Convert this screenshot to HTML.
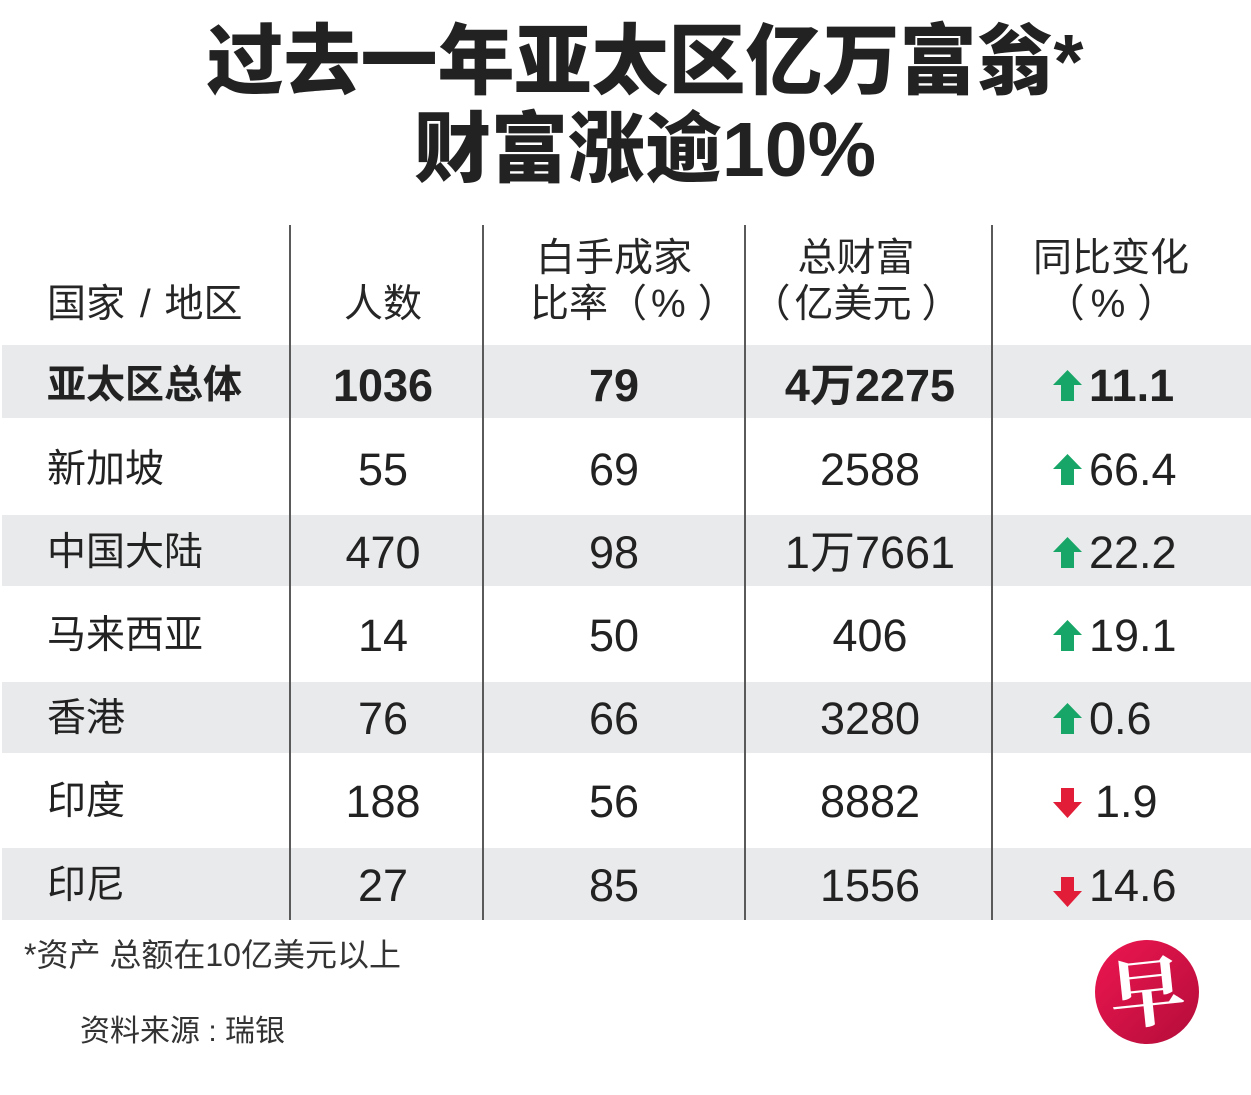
<!DOCTYPE html>
<html><head><meta charset="utf-8">
<style>
*{margin:0;padding:0;box-sizing:border-box}
html,body{width:1251px;height:1095px;background:#fff;overflow:hidden}
body{position:relative;font-family:"Liberation Sans","Noto Sans CJK SC",sans-serif;color:#222}
.a{position:absolute;white-space:nowrap}
.title{left:0;width:1290px;text-align:center;font-size:77px;line-height:77px;font-weight:900;color:#222;font-family:"Liberation Sans","Noto Sans CJK SC",sans-serif}
.band{position:absolute;left:2px;width:1249px;background:#e9eaeb}
.vl{position:absolute;top:225px;height:695px;width:2px;background:#5a5a5a}
.hd{font-size:39px;line-height:46px;color:#262626;text-align:center}
.row{position:absolute;left:0;width:1251px;height:50px;line-height:50px}
.row div{position:absolute;top:0;white-space:nowrap}
.nm{left:47px;font-size:39px}
.c1{left:290px;width:186px;text-align:center;font-size:45px}
.c2{left:483px;width:262px;text-align:center;font-size:45px}
.c3{left:745px;width:250px;text-align:center;font-size:45px}
.c4{left:1089px;font-size:45px}
.b{font-weight:bold}
.ar{position:absolute;left:1053px}
.sp{display:inline-block}
</style></head><body>

<div class="a title" style="top:24px">过去一年亚太区亿万富翁*</div>
<div class="a title" style="top:112px">财富涨逾10%</div>

<div class="band" style="top:345px;height:73px"></div>
<div class="band" style="top:515px;height:71px"></div>
<div class="band" style="top:682px;height:71px"></div>
<div class="band" style="top:848px;height:72px"></div>

<div class="vl" style="left:289px"></div>
<div class="vl" style="left:482px"></div>
<div class="vl" style="left:744px"></div>
<div class="vl" style="left:991px"></div>

<!-- header -->
<div class="a hd" style="left:47px;top:282px;text-align:left">国家<span class="sp" style="width:4px"></span> / <span class="sp" style="width:3px"></span>地区</div>
<div class="a hd" style="left:290px;width:186px;top:282px">人数</div>
<div class="a hd" style="left:483px;width:262px;top:236px">白手成家</div>
<div class="a hd" style="left:530px;top:282px;text-align:left">比率（<span class="sp" style="width:4px"></span>%<span class="sp" style="width:12px"></span>）</div>
<div class="a hd" style="left:745px;width:222px;top:236px">总财富</div>
<div class="a hd" style="left:745px;width:222px;top:282px">（<span class="sp" style="width:4px"></span>亿美元<span class="sp" style="width:10px"></span>）</div>
<div class="a hd" style="left:992px;width:238px;top:236px">同比变化</div>
<div class="a hd" style="left:992px;width:238px;top:282px">（<span class="sp" style="width:6px"></span>%<span class="sp" style="width:12px"></span>）</div>

<!-- rows -->
<div class="row" style="top:361px">
  <div class="nm b">亚太区总体</div><div class="c1 b">1036</div><div class="c2 b">79</div><div class="c3 b">4万2275</div><div class="c4 b">11.1</div>
</div>
<div class="row" style="top:445px">
  <div class="nm">新加坡</div><div class="c1">55</div><div class="c2">69</div><div class="c3">2588</div><div class="c4">66.4</div>
</div>
<div class="row" style="top:528px">
  <div class="nm">中国大陆</div><div class="c1">470</div><div class="c2">98</div><div class="c3">1万7661</div><div class="c4">22.2</div>
</div>
<div class="row" style="top:611px">
  <div class="nm">马来西亚</div><div class="c1">14</div><div class="c2">50</div><div class="c3">406</div><div class="c4">19.1</div>
</div>
<div class="row" style="top:694px">
  <div class="nm">香港</div><div class="c1">76</div><div class="c2">66</div><div class="c3">3280</div><div class="c4">0.6</div>
</div>
<div class="row" style="top:777px">
  <div class="nm">印度</div><div class="c1">188</div><div class="c2">56</div><div class="c3">8882</div><div class="c4" style="left:1095px">1.9</div>
</div>
<div class="row" style="top:861px">
  <div class="nm">印尼</div><div class="c1">27</div><div class="c2">85</div><div class="c3">1556</div><div class="c4">14.6</div>
</div>

<!-- arrows -->
<svg class="ar" style="top:370px" width="29" height="31" viewBox="0 0 29 31"><polygon points="14.5,0 29,15 21,15 21,31 8,31 8,15 0,15" fill="#17a667"/></svg>
<svg class="ar" style="top:454px" width="29" height="31" viewBox="0 0 29 31"><polygon points="14.5,0 29,15 21,15 21,31 8,31 8,15 0,15" fill="#17a667"/></svg>
<svg class="ar" style="top:537px" width="29" height="31" viewBox="0 0 29 31"><polygon points="14.5,0 29,15 21,15 21,31 8,31 8,15 0,15" fill="#17a667"/></svg>
<svg class="ar" style="top:620px" width="29" height="31" viewBox="0 0 29 31"><polygon points="14.5,0 29,15 21,15 21,31 8,31 8,15 0,15" fill="#17a667"/></svg>
<svg class="ar" style="top:703px" width="29" height="31" viewBox="0 0 29 31"><polygon points="14.5,0 29,15 21,15 21,31 8,31 8,15 0,15" fill="#17a667"/></svg>
<svg class="ar" style="top:788px" width="29" height="30" viewBox="0 0 29 30"><polygon points="8,0 21,0 21,14 29,14 14.5,30 0,14 8,14" fill="#e11d38"/></svg>
<svg class="ar" style="top:877px" width="29" height="30" viewBox="0 0 29 30"><polygon points="8,0 21,0 21,14 29,14 14.5,30 0,14 8,14" fill="#e11d38"/></svg>

<!-- footnotes -->
<div class="a" style="left:24px;top:937px;font-size:32px;line-height:36px;color:#333">*资产 总额在10亿美元以上</div>
<div class="a" style="left:80px;top:1015px;font-size:30px;line-height:34px;color:#333">资料来源 : 瑞银</div>

<!-- logo -->
<svg class="a" style="left:1093px;top:938px" width="108" height="108" viewBox="0 0 108 108">
  <defs><linearGradient id="g" x1="0" y1="0" x2="1" y2="1"><stop offset="0" stop-color="#ee1650"/><stop offset="1" stop-color="#b30d3a"/></linearGradient></defs>
  <circle cx="54" cy="54" r="52" fill="url(#g)"/>
  <text x="54" y="82" text-anchor="middle" font-family="Noto Serif CJK SC, Noto Sans CJK SC, serif" font-weight="bold" font-size="76" fill="#fff" transform="rotate(-6 54 54)">早</text>
</svg>

</body></html>
